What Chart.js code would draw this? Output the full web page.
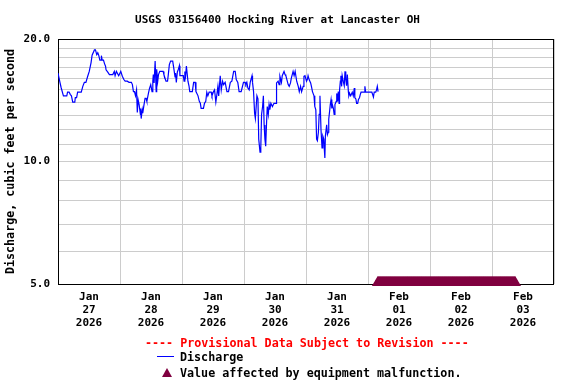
<!DOCTYPE html>
<html lang="en">
<head>
<meta charset="UTF-8">
<title>USGS 03156400 Hocking River at Lancaster OH</title>
<script src="https://cdn.jsdelivr.net/npm/chart.js"></script>
<style>
    body {
        margin: 0;
        background: #fff;
    }

    #wrap {
        position: relative;
        width: 576px;
        height: 384px;
        font-family: 'DejaVu Sans Mono', monospace;
        font-weight: bold;
        color: #000;
    }

    #wrap canvas {
        position: absolute;
        left: 0;
        top: 0;
    }

    .txt {
        position: absolute;
        white-space: pre;
        line-height: 14px;
        font-size: 11.7px;
    }

    #title {
        left: 0;
        width: 555px;
        top: 13px;
        text-align: center;
        font-size: 11px;
    }

    #prov {
        left: 145px;
        top: 336px;
        color: #ff0000;
    }

    #lgLine {
        position: absolute;
        left: 157px;
        top: 356px;
        width: 17px;
        height: 0;
        border-top: 1px solid #0000ff;
    }

    #lgTri {
        position: absolute;
        left: 162px;
        top: 368px;
        width: 0;
        height: 0;
        border-left: 5px solid transparent;
        border-right: 5px solid transparent;
        border-bottom: 9px solid #800040;
    }

    #lgDis { left: 180px; top: 350px; }
    #lgVal { left: 180px; top: 366px; }
</style>
</head>
<body>
<div id="wrap">
    <canvas id="chart" width="576" height="384"></canvas>
    <div class="txt" id="title">USGS 03156400 Hocking River at Lancaster OH</div>
    <div class="txt" id="prov">---- Provisional Data Subject to Revision ----</div>
    <div id="lgLine"></div>
    <div class="txt" id="lgDis">Discharge</div>
    <div id="lgTri"></div>
    <div class="txt" id="lgVal">Value affected by equipment malfunction.</div>
</div>

<script>
    // hours since 2026-01-27 00:00 and discharge (ft3/s)
    const hours = [
        0.0, 0.3, 0.8, 1.2, 2.1, 3.4, 3.7, 4.3, 4.8, 5.2, 5.7, 6.5, 6.7, 7.2, 7.6, 9.0, 9.6, 10.2, 10.8, 11.5,
        12.1, 12.8, 13.2, 14.1, 14.5, 15.0, 15.4, 15.8, 16.2, 16.7, 16.8, 17.1, 17.6, 18.0, 18.4, 18.6, 19.2, 19.9, 21.2, 21.8,
        22.1, 22.6, 23.5, 24.3, 24.9, 25.5, 26.0, 26.8, 27.5, 28.4, 28.8, 29.2, 29.6, 30.0, 30.4, 30.7, 31.0, 31.4, 31.9, 32.0,
        32.2, 32.6, 32.8, 33.3, 33.7, 34.1, 34.4, 35.0, 35.4, 35.9, 36.4, 36.7, 36.9, 37.2, 37.6, 38.0, 38.2, 38.6, 38.9, 39.4,
        40.7, 41.0, 41.4, 41.8, 42.4, 42.7, 43.1, 43.6, 44.4, 44.7, 45.3, 45.5, 45.8, 46.2, 46.6, 47.0, 47.2, 48.5, 48.8, 49.1,
        49.4, 49.7, 50.3, 50.7, 51.0, 52.0, 52.5, 53.1, 53.4, 54.2, 54.7, 55.1, 55.4, 56.3, 56.7, 57.2, 57.6, 58.0, 58.5, 59.3,
        59.6, 60.2, 60.6, 61.1, 61.5, 61.9, 62.2, 62.8, 63.2, 63.7, 64.1, 64.7, 65.4, 66.0, 66.7, 67.3, 68.0, 68.6, 69.0, 69.6,
        70.1, 70.9, 71.8, 72.4, 72.7, 73.1, 73.5, 74.0, 74.4, 75.1, 75.3, 75.7, 76.1, 76.4, 77.0, 77.4, 77.7, 78.2, 78.5, 78.8,
        79.2, 79.5, 79.8, 80.1, 80.4, 80.7, 81.0, 81.4, 81.7, 82.0, 82.4, 83.0, 83.6, 84.4, 84.6, 85.2, 85.6, 85.9, 86.5, 86.8,
        87.5, 87.9, 88.2, 89.1, 89.5, 90.0, 90.3, 91.0, 91.4, 91.8, 92.4, 93.0, 93.4, 93.9, 94.3, 94.9, 95.2, 95.6, 96.2, 96.5,
        96.8, 97.2, 97.8, 98.1, 98.5, 99.1, 99.4, 99.8, 100.1, 100.4, 100.8, 101.1, 101.4, 101.8, 102.2, 102.5, 102.9, 103.1, 103.3, 103.5,
        104.0, 104.3, 104.6, 104.8, 105.2, 105.4, 105.7, 106.0, 106.2, 106.6, 106.9, 107.2, 107.7, 107.9, 108.2, 108.5, 108.8, 109.0, 109.3, 109.5,
        109.8, 110.0, 110.4, 110.8, 111.1, 111.4, 111.7, 112.0, 112.4, 112.6, 112.9, 113.3, 113.9, 114.3, 114.7, 114.9, 115.3, 115.6, 116.0, 116.3,
        116.7, 117.0, 117.3, 118.5, 118.8, 119.1, 121.5, 121.8, 122.1, 122.4, 123.0, 123.3, 123.6, 123.9
    ];
    const discharge = [
        16.5, 16.5, 15.6, 15.2, 14.5, 14.5, 14.8, 14.8, 14.6, 14.5, 14.0, 14.0, 14.35, 14.35, 14.8, 14.8, 15.3, 15.65, 15.65, 16.2,
        16.65, 17.5, 18.25, 18.8, 18.8, 18.3, 18.5, 18.2, 17.75, 17.75, 18.2, 17.75, 17.75, 17.4, 17.15, 16.8, 16.6, 16.35, 16.35, 16.65,
        16.25, 16.65, 16.25, 16.65, 16.2, 15.9, 15.75, 15.75, 15.65, 15.65, 15.45, 14.85, 14.85, 14.5, 15.0, 13.2, 14.2, 13.8, 13.05, 13.5,
        12.75, 13.4, 13.15, 13.8, 14.3, 14.3, 14.05, 14.7, 15.1, 15.45, 14.85, 15.75, 16.35, 15.6, 17.65, 14.85, 16.85, 15.75, 16.35, 16.65,
        16.65, 16.35, 16.05, 15.75, 15.75, 16.35, 17.3, 17.65, 17.65, 17.15, 16.15, 16.5, 15.65, 16.6, 16.85, 17.2, 16.25, 16.25, 15.75, 16.65,
        16.25, 17.15, 15.75, 15.35, 14.85, 14.85, 15.65, 15.65, 14.85, 14.5, 14.05, 13.9, 13.5, 13.5, 13.9, 14.05, 14.8, 14.5, 14.8, 14.8,
        14.5, 14.85, 15.0, 14.0, 14.6, 15.3, 14.5, 16.25, 15.0, 15.75, 15.45, 15.65, 14.85, 14.85, 15.65, 15.75, 16.65, 16.65, 15.9, 15.65,
        14.85, 14.85, 15.65, 15.65, 15.45, 15.65, 15.15, 15.0, 15.65, 16.25, 15.65, 14.85, 13.15, 12.75, 14.5, 14.25, 11.35, 10.55, 10.8, 13.05,
        13.65, 14.5, 12.3, 11.35, 10.9, 12.3, 13.65, 13.05, 13.8, 13.4, 13.9, 13.65, 13.9, 13.9, 15.6, 15.75, 15.45, 16.2, 15.65, 16.25,
        16.65, 16.35, 16.25, 15.45, 15.3, 15.6, 16.0, 16.65, 16.25, 16.65, 15.75, 15.3, 14.85, 15.3, 14.85, 15.3, 16.2, 16.25, 15.75, 15.9,
        16.25, 15.9, 15.6, 15.3, 14.85, 14.5, 13.65, 13.4, 11.35, 11.25, 11.8, 13.05, 14.5, 12.0, 10.8, 11.55, 11.35, 10.7, 10.2, 11.55,
        12.3, 11.65, 11.8, 12.7, 13.4, 13.8, 14.2, 13.5, 13.8, 13.5, 13.05, 13.8, 14.05, 14.7, 14.05, 14.85, 13.9, 15.0, 15.75, 16.25,
        15.3, 16.25, 15.75, 15.35, 16.65, 15.9, 15.35, 16.35, 14.85, 14.5, 14.7, 14.5, 14.8, 14.5, 15.15, 14.35, 14.25, 13.9, 13.9, 14.2,
        14.35, 14.6, 14.8, 14.8, 15.3, 14.8, 14.8, 14.6, 14.4, 14.8, 14.8, 15.0, 15.3, 14.85
    ];

    // readings flagged "equipment malfunction" (hours, 15-minute readings)
    const flagStart = 123.75;
    const flagEnd = 177.0;
    const flagStep = 0.25;

    const dayLabels = [
        ['Jan', '27', '2026'], ['Jan', '28', '2026'], ['Jan', '29', '2026'], ['Jan', '30', '2026'],
        ['Jan', '31', '2026'], ['Feb', '01', '2026'], ['Feb', '02', '2026'], ['Feb', '03', '2026']
    ];
    const yTicks = [5, 6, 7, 8, 9, 10, 11, 12, 13, 14, 15, 16, 17, 18, 19, 20];
    const yLabels = [5, 10, 20];

    const flagPoints = [];
    for (let t = flagStart; t <= flagEnd + 1e-9; t += flagStep) {
        flagPoints.push({ x: t, y: 5 });
    }

    const xTicks = [];
    dayLabels.forEach((d, i) => {
        xTicks.push({ value: i * 24 });
        xTicks.push({ value: i * 24 + 12 });
    });
    xTicks.push({ value: dayLabels.length * 24 });

    Chart.defaults.font.family = "'DejaVu Sans Mono', monospace";
    Chart.defaults.font.weight = 'bold';
    Chart.defaults.font.size = 11;
    Chart.defaults.color = '#000';

    const frame = {
        id: 'frame',
        beforeDatasetsDraw(chart) {
            const a = chart.chartArea;
            const ctx = chart.ctx;
            ctx.save();
            ctx.strokeStyle = '#000';
            ctx.lineWidth = 1;
            ctx.strokeRect(a.left + 0.5, a.top + 0.5, a.right - a.left - 1, a.bottom - a.top);
            ctx.restore();
        }
    };

    new Chart(document.getElementById('chart'), {
        type: 'line',
        data: {
            datasets: [{
                label: 'Discharge',
                data: hours.map((h, i) => ({ x: h, y: discharge[i] })),
                borderColor: '#0000ff',
                borderWidth: 1.2,
                pointRadius: 0,
                tension: 0,
                fill: false
            }, {
                label: 'Value affected by equipment malfunction.',
                data: flagPoints,
                showLine: false,
                pointStyle: 'triangle',
                pointRadius: 8,
                pointBorderWidth: 0,
                pointBackgroundColor: '#800040',
                pointBorderColor: '#800040',
                clip: { left: 10, top: 10, right: 10, bottom: 2 }
            }]
        },
        options: {
            responsive: false,
            animation: false,
            layout: { padding: { top: 39, right: 22, left: 0, bottom: 0 } },
            plugins: {
                legend: { display: false },
                tooltip: { enabled: false }
            },
            scales: {
                x: {
                    type: 'linear',
                    min: 0,
                    max: 192,
                    afterBuildTicks: (s) => { s.ticks = xTicks.map(t => ({ value: t.value })); },
                    afterFit: (s) => { s.height = 100; },
                    border: { display: false },
                    grid: {
                        drawTicks: false,
                        color: (c) => (c.tick && c.tick.value % 24 === 12) ? 'rgba(0,0,0,0)' : '#cccccc',
                        lineWidth: 1
                    },
                    ticks: {
                        autoSkip: false,
                        maxRotation: 0,
                        minRotation: 0,
                        padding: 7,
                        font: { size: 11, weight: 'bold', lineHeight: 1.18 },
                        callback: (v) => (v % 24 === 12) ? dayLabels[(v - 12) / 24] : ''
                    }
                },
                y: {
                    type: 'logarithmic',
                    min: 5,
                    max: 20,
                    afterBuildTicks: (s) => { s.ticks = yTicks.map(v => ({ value: v })); },
                    afterFit: (s) => { s.width = 58; },
                    border: { display: false },
                    grid: { drawTicks: false, color: '#cccccc', lineWidth: 1 },
                    ticks: {
                        padding: 8,
                        autoSkip: false,
                        font: { size: 11, weight: 'bold' },
                        callback: (v) => yLabels.includes(v) ? v.toFixed(1) : ''
                    },
                    title: {
                        display: true,
                        text: 'Discharge, cubic feet per second',
                        font: { size: 11.7, weight: 'bold', lineHeight: 1.2 },
                        padding: { top: 4, bottom: 0 }
                    }
                }
            }
        },
        plugins: [frame]
    });
</script>
</body>
</html>
